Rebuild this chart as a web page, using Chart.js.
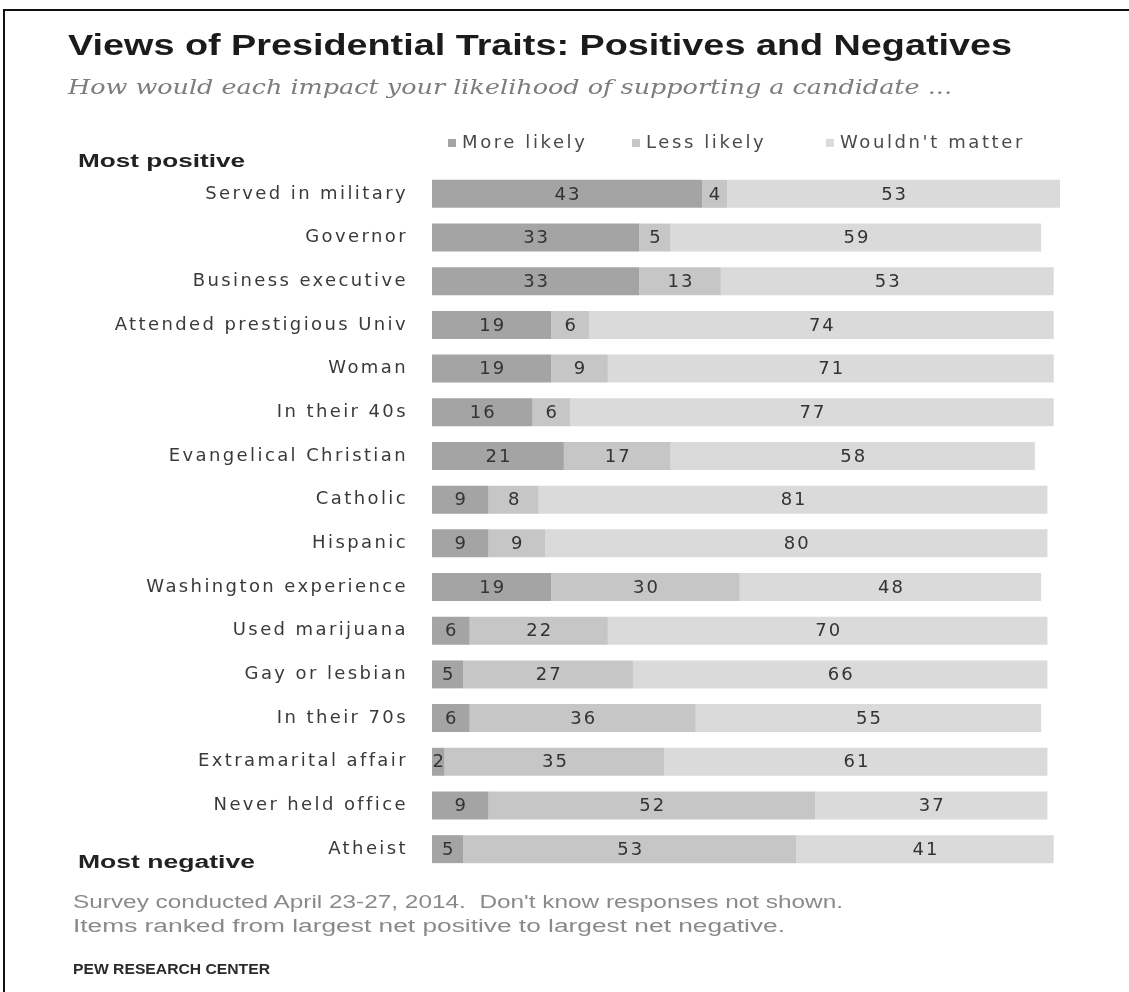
<!DOCTYPE html>
<html>
<head>
<meta charset="utf-8">
<script src="https://cdn.jsdelivr.net/npm/chart.js@4.4.0/dist/chart.umd.min.js"></script>
<style>
  html, body { margin: 0; padding: 0; background: #fff; }
  #page { position: relative; width: 1129px; height: 992px; overflow: hidden; background: #fff; }
  #frame { position: absolute; left: 3px; top: 9px; width: 1140px; height: 1000px;
           border-top: 2px solid #111; border-left: 2px solid #111; }
  #c { position: absolute; left: 0; top: 0; }
  .t { position: absolute; white-space: nowrap; line-height: 1; transform-origin: 0 50%; }
</style>
</head>
<body>
<div id="page">
  <div id="frame"></div>
  <canvas id="c" width="1129" height="992"></canvas>

  <div class="t" data-w="944" style="left:68px;top:29px;font:bold 29px 'Liberation Sans';color:#1b1b1b">Views of Presidential Traits: Positives and Negatives</div>
  <div class="t" data-w="884" style="left:68px;top:75px;font:italic 21px 'DejaVu Serif';color:#7d7d7d">How would each impact your likelihood of supporting a candidate ...</div>

  <div class="t" data-w="167" style="left:78px;top:151px;font:bold 18px 'Liberation Sans';color:#222">Most positive</div>
  <div class="t" data-w="177" style="left:78px;top:852px;font:bold 18px 'Liberation Sans';color:#222">Most negative</div>

  <div class="t" data-w="770" style="left:73px;top:892px;font:18px 'Liberation Sans';color:#8a8a8a">Survey conducted April 23-27, 2014.&nbsp; Don't know responses not shown.</div>
  <div class="t" data-w="712" style="left:73px;top:916px;font:18px 'Liberation Sans';color:#8a8a8a">Items ranked from largest net positive to largest net negative.</div>
  <div class="t" data-w="197" style="left:73px;top:960px;font:bold 15px 'Liberation Sans';color:#2a2a2a">PEW RESEARCH CENTER</div>
</div>

<script>
// Traits, ranked from largest net positive to largest net negative
const categories = [
  'Served in military', 'Governor', 'Business executive', 'Attended prestigious Univ',
  'Woman', 'In their 40s', 'Evangelical Christian', 'Catholic', 'Hispanic',
  'Washington experience', 'Used marijuana', 'Gay or lesbian', 'In their 70s',
  'Extramarital affair', 'Never held office', 'Atheist'
];

// Percent of respondents
const moreLikely    = [43, 33, 33, 19, 19, 16, 21,  9,  9, 19,  6,  5,  6,  2,  9,  5];
const lessLikely    = [ 4,  5, 13,  6,  9,  6, 17,  8,  9, 30, 22, 27, 36, 35, 52, 53];
const wouldntMatter = [53, 59, 53, 74, 71, 77, 58, 81, 80, 48, 70, 66, 55, 61, 37, 41];

const seriesNames  = ['More likely', 'Less likely', "Wouldn't matter"];
const seriesColors = ['#a4a4a4', '#c6c6c6', '#dadada'];

const LS = 2.4; // letter spacing for the category labels

// Stretch each HTML text line to its set width
document.querySelectorAll('.t[data-w]').forEach(el => {
  const w = el.getBoundingClientRect().width;
  el.style.transform = 'scaleX(' + (el.dataset.w / w) + ')';
});

const spacingPlugin = {
  id: 'spacing',
  beforeDraw(chart) { chart.ctx.letterSpacing = LS + 'px'; }
};

const valueLabels = {
  id: 'valueLabels',
  afterDatasetsDraw(chart) {
    const ctx = chart.ctx;
    ctx.save();
    ctx.letterSpacing = '2px';
    ctx.font = '18px "DejaVu Sans"';
    ctx.fillStyle = '#333';
    ctx.textAlign = 'center';
    ctx.textBaseline = 'middle';
    chart.data.datasets.forEach((ds, i) => {
      chart.getDatasetMeta(i).data.forEach((bar, j) => {
        const cx = (bar.x + bar.base) / 2;
        ctx.fillText(String(ds.data[j]), cx + 1, bar.y + 1);
      });
    });
    ctx.restore();
  }
};

// Legend row above the bars
const legendX = [448, 632, 826];
const legendRow = {
  id: 'legendRow',
  afterDraw(chart) {
    const ctx = chart.ctx;
    ctx.save();
    ctx.letterSpacing = '2.6px';
    ctx.font = '18px "DejaVu Sans"';
    ctx.textBaseline = 'middle';
    ctx.textAlign = 'left';
    chart.data.datasets.forEach((ds, i) => {
      const x = legendX[i], y = 143;
      ctx.fillStyle = ds.backgroundColor;
      ctx.fillRect(x, y - 4, 8, 8);
      ctx.fillStyle = '#4a4a4a';
      ctx.fillText(ds.label, x + 14, y);
    });
    ctx.restore();
  }
};

new Chart(document.getElementById('c'), {
  type: 'bar',
  data: {
    labels: categories,
    datasets: [
      { label: seriesNames[0], data: moreLikely,    backgroundColor: seriesColors[0] },
      { label: seriesNames[1], data: lessLikely,    backgroundColor: seriesColors[1] },
      { label: seriesNames[2], data: wouldntMatter, backgroundColor: seriesColors[2] }
    ]
  },
  options: {
    indexAxis: 'y',
    responsive: false,
    animation: false,
    datasets: { bar: { barPercentage: 0.64, categoryPercentage: 1, borderWidth: 0 } },
    layout: { padding: { left: 0, top: 172, right: 69, bottom: 121 } },
    plugins: { legend: { display: false }, tooltip: { enabled: false } },
    scales: {
      x: { stacked: true, min: 0, max: 100, display: false },
      y: {
        stacked: true,
        grid: { display: false, drawTicks: false },
        border: { display: false },
        ticks: { padding: 24, color: '#3a3a3a', font: { family: 'DejaVu Sans', size: 18 } },
        afterFit(scale) { scale.width = 432; }
      }
    }
  },
  plugins: [spacingPlugin, valueLabels, legendRow]
});
</script>
</body>
</html>
